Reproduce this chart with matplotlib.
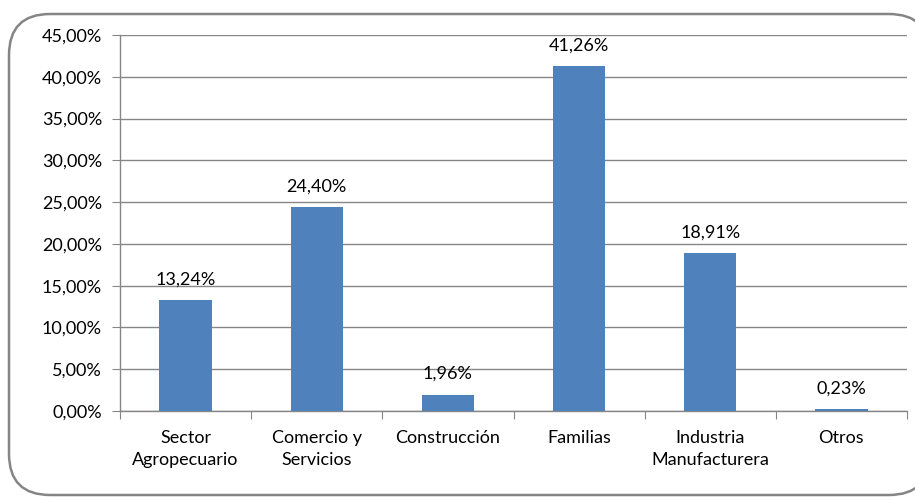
import matplotlib.pyplot as plt
from matplotlib.patches import FancyBboxPatch

# Data
categories = ["Sector\nAgropecuario", "Comercio y\nServicios", "Construcción",
              "Familias", "Industria\nManufacturera", "Otros"]
values = [13.24, 24.40, 1.96, 41.26, 18.91, 0.23]
labels = ["13,24%", "24,40%", "1,96%", "41,26%", "18,91%", "0,23%"]
yticks = [0, 5, 10, 15, 20, 25, 30, 35, 40, 45]
ytick_labels = ["0,00%", "5,00%", "10,00%", "15,00%", "20,00%", "25,00%",
                "30,00%", "35,00%", "40,00%", "45,00%"]

plt.rcParams['font.family'] = ['Lato', 'DejaVu Sans']

W, H = 915, 500
fig = plt.figure(figsize=(W / 100, H / 100), dpi=100, facecolor="white")

# Outer rounded frame (right edge runs past the image)
frame = FancyBboxPatch((9 / W, 1 - 495 / H), (930 - 9) / W, (495 - 14) / H,
                       boxstyle="round,pad=0,rounding_size=0.045",
                       transform=fig.transFigure, facecolor="white",
                       edgecolor="#858585", linewidth=1.8, mutation_aspect=W / H,
                       zorder=-1)
fig.patches.append(frame)

ax = fig.add_axes([120 / W, 1 - 411 / H, (907 - 120) / W, (411 - 35) / H])
ax.set_facecolor("none")

x = range(len(categories))
ax.bar(x, values, width=0.4, color="#4F81BD", zorder=3)

for xi, v, lab in zip(x, values, labels):
    ax.annotate(lab, (xi, v), xytext=(0, 9), textcoords="offset points",
                ha="center", va="bottom", fontsize=13, color="#000000")

ax.set_xlim(-0.5, len(categories) - 0.5)
ax.set_ylim(0, 45)
ax.set_yticks(yticks)
ax.set_yticklabels(ytick_labels, fontsize=13)
ax.yaxis.grid(True, color="#868686", linewidth=1, zorder=0)

ax.set_xticks([i - 0.5 for i in range(len(categories) + 1)])
ax.set_xticklabels([])
ax.set_xticks(list(x), minor=True)
ax.set_xticklabels(categories, minor=True, fontsize=13, linespacing=1.45)
ax.tick_params(axis="x", which="minor", length=0, pad=14)
ax.tick_params(axis="x", which="major", length=6, color="#868686", direction="out")
ax.tick_params(axis="y", length=6, color="#868686", direction="out", pad=7)

for side in ["top", "right"]:
    ax.spines[side].set_visible(False)
for side in ["left", "bottom"]:
    ax.spines[side].set_color("#868686")
    ax.spines[side].set_linewidth(1)

fig.savefig("out.png", dpi=100)
